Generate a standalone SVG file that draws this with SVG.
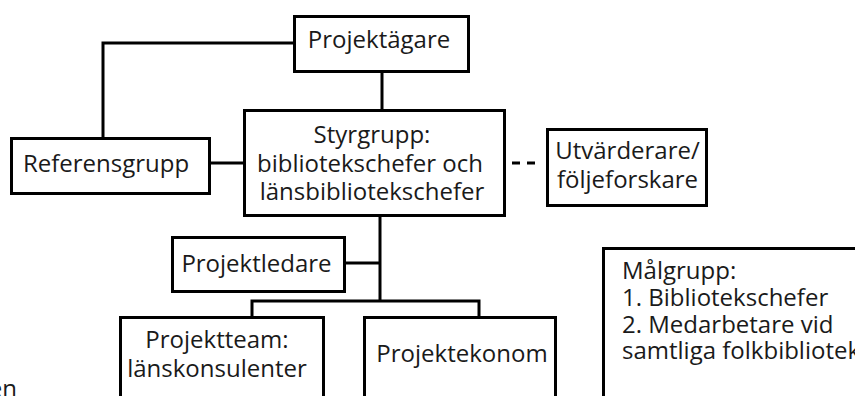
<svg xmlns="http://www.w3.org/2000/svg" width="855" height="396" viewBox="0 0 855 396">
<style>
.box{fill:#fff;stroke:#000;stroke-width:3}
.c{fill:none;stroke:#000;stroke-width:3}
.d{fill:none;stroke:#000;stroke-width:3;stroke-dasharray:8 7}
text{font-family:"Open Sans","Liberation Sans",sans-serif;font-size:24px;fill:#1a1a1a}
.m{text-anchor:middle}
</style>
<rect width="855" height="396" fill="#fff"/>
<g id="connectors">
<path class="c" d="M294,43 H103 V138"/>
<path class="c" d="M382,72 V110"/>
<path class="c" d="M210,163 H244"/>
<path class="d" d="M512,163 H536"/>
<path class="c" d="M380,216 V302"/>
<path class="c" d="M345,263 H380"/>
<path class="c" d="M252,317 V301 H479 V317"/>
</g>
<g id="projektagare"><rect class="box" x="294.5" y="16.5" width="174" height="55"/><text class="m" x="379" y="48">Projektägare</text></g>
<g id="referensgrupp"><rect class="box" x="11.5" y="138.5" width="198" height="55"/><text class="m" x="106" y="172">Referensgrupp</text></g>
<g id="styrgrupp"><rect class="box" x="244.5" y="110.5" width="260" height="105"/><text class="m" x="372" y="143">Styrgrupp:</text><text class="m" x="370" y="172">bibliotekschefer och</text><text class="m" x="372" y="200">länsbibliotekschefer</text></g>
<g id="utvarderare"><rect class="box" x="547.5" y="129.5" width="159" height="76"/><text class="m" x="627.5" y="159">Utvärderare/</text><text class="m" x="627.5" y="188">följeforskare</text></g>
<g id="projektledare"><rect class="box" x="172.5" y="237.5" width="172" height="54"/><text class="m" x="256.5" y="272">Projektledare</text></g>
<g id="projektteam"><rect class="box" x="120.5" y="317.5" width="203" height="100"/><text class="m" x="217" y="348">Projektteam:</text><text class="m" x="217" y="377">länskonsulenter</text></g>
<g id="projektekonom"><rect class="box" x="364.5" y="317.5" width="191" height="100"/><text class="m" x="462" y="362">Projektekonom</text></g>
<g id="malgrupp"><rect class="box" x="603.5" y="248.5" width="300" height="200"/><text x="622" y="279">Målgrupp:</text><text x="622" y="306">1. Bibliotekschefer</text><text x="622" y="333">2. Medarbetare vid</text><text x="622" y="359">samtliga folkbibliotek</text></g>
<text x="17" y="397" text-anchor="end">en</text>
</svg>
